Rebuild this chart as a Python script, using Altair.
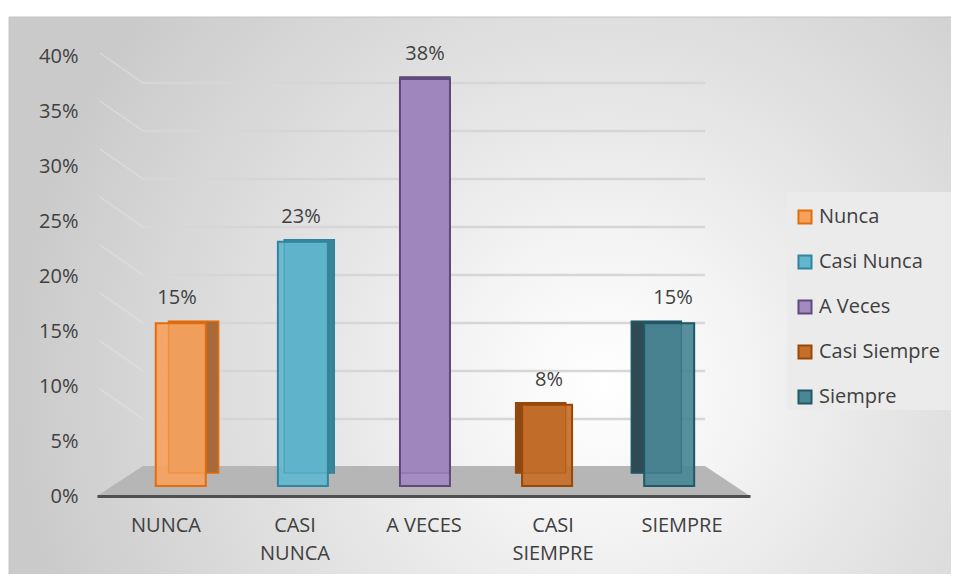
import altair as alt
import pandas as pd

# ---------------- data ----------------
categories = ["NUNCA", "CASI\nNUNCA", "A VECES", "CASI\nSIEMPRE", "SIEMPRE"]
series_names = ["Nunca", "Casi Nunca", "A Veces", "Casi Siempre", "Siempre"]
values = [0.1538, 0.2308, 0.3846, 0.0769, 0.1538]
y_ticks = [0.0, 0.05, 0.10, 0.15, 0.20, 0.25, 0.30, 0.35, 0.40]

# ---------------- styles ----------------
front_colors = ["#F5A25F", "#62B7CE", "#A38BC2", "#C66F2B", "#4A8795"]
edge_colors = ["#E46C0A", "#31859C", "#604A7B", "#984807", "#215967"]
side_colors = ["#A86A38", "#3A8698", "#6E5690", "#8A4A12", "#2E4A52"]
FONT = "Open Sans"
TXT = "#404040"

df = pd.DataFrame({"idx": list(range(len(categories))), "cat": categories,
                   "name": series_names, "value": values})
ticks_df = pd.DataFrame({"v": y_ticks})

W, H = 653, 440

bar_x = alt.Scale(domain=[-0.645, 4.621], nice=False, zero=False)
bar_y = alt.Scale(domain=[0, 0.4], range=[430, 6.8], nice=False)
grid_y = alt.Scale(domain=[0, 0.4], range=[411, 27], nice=False)
lab_x = alt.Scale(domain=[-0.535, 4.527], nice=False, zero=False)

one = alt.Chart(df).transform_filter("datum.idx == 0")

background = one.mark_rect(
    fill=alt.RadialGradient(
        gradient="radial",
        x1=0.62, y1=0.58, r1=0.0, x2=0.62, y2=0.58, r2=0.62,
        stops=[alt.GradientStop(color="#ffffff", offset=0.0),
               alt.GradientStop(color="#f6f6f6", offset=0.2),
               alt.GradientStop(color="#e2e2e2", offset=0.55),
               alt.GradientStop(color="#cacaca", offset=1.0)]),
    stroke="#c4c4c4", strokeWidth=1,
).encode(x=alt.value(-88), x2=alt.value(870), y=alt.value(-39), y2=alt.value(540))

legend_box = one.mark_rect(fill="#ebebeb").encode(
    x=alt.value(690), x2=alt.value(856), y=alt.value(136), y2=alt.value(354))

grid_base = alt.Chart(ticks_df).transform_filter("datum.v > 0")
grid_diag = grid_base.transform_calculate(vl="datum.v + 0.03125").mark_rule(
    color="#e4e4e4", strokeWidth=1.2, opacity=0.6).encode(
    x=alt.value(3), x2=alt.value(46),
    y=alt.Y("vl:Q", scale=grid_y, axis=None), y2=alt.Y2("v:Q"))
grid = grid_base.mark_rule(color="#d6d6d6", strokeWidth=2.5).encode(
    x=alt.value(46), x2=alt.value(608),
    y=alt.Y("v:Q", scale=grid_y, axis=None))

floor = one.mark_point(
    shape="M -1 0.0459 L 1 0.0459 L 0.862 -0.0459 L -0.859 -0.0459 Z",
    filled=True, fill="#b6b6b6", opacity=1, strokeWidth=0, size=653 * 653,
).encode(x=alt.value(326.5), y=alt.value(425))

bars = alt.Chart(df)
side = bars.transform_calculate(xs="datum.idx + (2 - datum.idx) * 6.5 / 124").mark_bar(
    width=50, yOffset=-2, y2Offset=-13, strokeWidth=1.5).encode(
    x=alt.X("xs:Q", scale=bar_x, axis=None),
    y=alt.Y("value:Q", scale=bar_y, axis=None),
    y2=alt.datum(0),
    fill=alt.Fill("name:N", scale=alt.Scale(domain=series_names, range=side_colors), legend=None),
    stroke=alt.Stroke("name:N", scale=alt.Scale(domain=series_names, range=edge_colors), legend=None),
)

leg = alt.Legend(title=None, orient="none", legendX=698, legendY=151,
                 symbolType="square", symbolSize=170, symbolStrokeWidth=2,
                 labelFont=FONT, labelFontSize=20, labelColor=TXT,
                 labelOffset=4, rowPadding=23, padding=0)

front = bars.mark_bar(width=50, strokeWidth=2, fillOpacity=0.93).encode(
    x=alt.X("idx:Q", scale=bar_x,
            axis=alt.Axis(labels=False, ticks=False, grid=False, domain=True,
                          domainColor="#4f4f4f", domainWidth=3, title=None, zindex=1)),
    y=alt.Y("value:Q", scale=bar_y, axis=None),
    y2=alt.datum(0),
    fill=alt.Fill("name:N", scale=alt.Scale(domain=series_names, range=front_colors), legend=leg, sort=series_names),
    stroke=alt.Stroke("name:N", scale=alt.Scale(domain=series_names, range=edge_colors), legend=leg, sort=series_names),
)

outline = bars.transform_calculate(xs="datum.idx + (2 - datum.idx) * 6.5 / 124").mark_bar(
    width=50, yOffset=-2, y2Offset=-13, strokeWidth=1.2, fillOpacity=0, strokeOpacity=0.35).encode(
    x=alt.X("xs:Q", scale=bar_x, axis=None),
    y=alt.Y("value:Q", scale=bar_y, axis=None),
    y2=alt.datum(0),
    stroke=alt.Stroke("name:N", scale=alt.Scale(domain=series_names, range=edge_colors), legend=None),
)

value_text = bars.mark_text(dy=-25, baseline="middle", font=FONT, fontSize=20, color=TXT).encode(
    x=alt.X("idx:Q", scale=bar_x, axis=None),
    y=alt.Y("value:Q", scale=bar_y, axis=None),
    text=alt.Text("value:Q", format=".0%"),
)

cat_text = bars.mark_text(baseline="top", align="center", lineBreak="\n", lineHeight=28,
                          font=FONT, fontSize=20, color=TXT).encode(
    x=alt.X("idx:Q", scale=lab_x, axis=None),
    y=alt.value(459.5),
    text="cat:N",
)

y_axis = alt.Chart(ticks_df).mark_point(opacity=0).encode(
    y=alt.Y("v:Q", scale=alt.Scale(domain=[0, 0.4], nice=False),
            axis=alt.Axis(values=y_ticks, format=".0%", grid=False, domain=False, ticks=False,
                          labelPadding=19, labelFont=FONT, labelFontSize=20, labelColor=TXT,
                          title=None, zindex=1)),
)

chart = alt.layer(
    background, legend_box, grid_diag, grid, floor, side, front, outline, value_text, cat_text, y_axis
).resolve_scale(
    x="independent", y="independent", fill="independent", stroke="independent"
).properties(
    width=W, height=H,
    autosize=alt.AutoSizeParams(type="none"),
    padding={"left": 89, "top": 48, "right": 201, "bottom": 78},
).configure_view(stroke=None).configure(font=FONT)

chart.save("out.html", embed_options={"renderer": "svg", "actions": False})
